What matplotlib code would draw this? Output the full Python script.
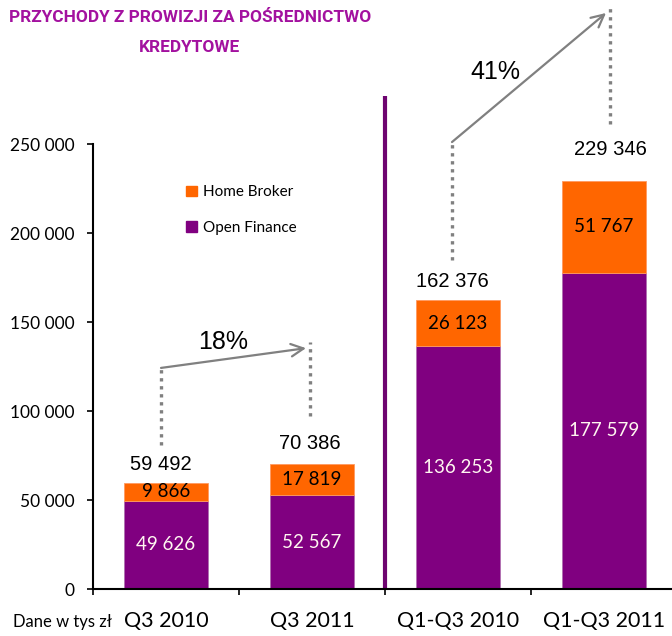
import matplotlib
matplotlib.use("Agg")
import matplotlib.pyplot as plt
from matplotlib.patches import Patch
from matplotlib.ticker import FuncFormatter
import numpy as np

# ---- data ----
categories = ["Q3 2010", "Q3 2011", "Q1-Q3 2010", "Q1-Q3 2011"]
open_finance = [49626, 52567, 136253, 177579]
home_broker = [9866, 17819, 26123, 51767]
totals = [59492, 70386, 162376, 229346]
series_names = ["Home Broker", "Open Finance"]
y_ticks = [0, 50000, 100000, 150000, 200000, 250000]
title_lines = ["PRZYCHODY Z PROWIZJI ZA POŚREDNICTWO", "KREDYTOWE"]
unit_note = "Dane w tys zł"
growth_pairs = [(0, 1), (2, 3)]

# ---- style ----
PURPLE = "#800080"
ORANGE = "#FF6600"
GRAY = "#808080"
TITLE_C = "#A3119F"
CAL = ["Lato", "DejaVu Sans"]
ARIAL = ["Liberation Sans", "DejaVu Sans"]
TITLE_F = ["Roboto", "DejaVu Sans"]

def fmt(v):
    return f"{int(v):,}".replace(",", " ")

fig = plt.figure(figsize=(6.72, 6.36), dpi=100)
W, H = 672, 636
ax = fig.add_axes([93 / W, 47 / H, 584 / W, 589 / H])
ax.set_xlim(-0.5, 3.5)
ax.set_ylim(0, 330900)

x = np.arange(len(categories))
bw = 0.58
ax.bar(x, open_finance, bw, color=PURPLE, edgecolor="#b070b0", linewidth=0.6, zorder=2)
ax.bar(x, home_broker, bw, bottom=open_finance, color=ORANGE, edgecolor="#ff9a60",
       linewidth=0.6, zorder=2)

# segment labels
for i in range(len(x)):
    ax.text(x[i], open_finance[i] / 2, fmt(open_finance[i]), ha="center", va="center",
            color="#FFF6F0", fontsize=13.5, family=CAL, zorder=3)
    ax.text(x[i], open_finance[i] + home_broker[i] / 2, fmt(home_broker[i]), ha="center",
            va="center", color="black", fontsize=13.5, family=CAL, zorder=3)

# total labels (pixel offsets)
label_dx = [-5, -2, -6, 6]
label_dy = [19, 20, 18, 31]
for i in range(len(x)):
    ax.annotate(fmt(totals[i]), (x[i], totals[i]), xytext=(label_dx[i] * 0.72, label_dy[i] * 0.72),
                textcoords="offset points", ha="center", va="center", fontsize=14.5,
                family=ARIAL, color="black")

# growth annotations (data units for annotation layout)
dot_ranges = [(80900, 124200), (97200, 138800), (184800, 251100), (261200, 327500)]
arrow_end_drop = [3500, 3900]
pct_pos = [(0.39, 138760), (2.253, 290450)]
px_unit = 1 / 146.0
for k, (a, b) in enumerate(growth_pairs):
    xa = x[a] + label_dx[a] * px_unit
    xb = x[b] + label_dx[b] * px_unit
    for idx, xx in ((a, xa), (b, xb)):
        y0, y1 = dot_ranges[idx]
        ax.plot([xx, xx], [y0, y1], color=GRAY, lw=2.4, dashes=(1.0, 1.4),
                solid_capstyle="butt", dash_capstyle="butt", zorder=1)
    ax.annotate("", xy=(xb - 4 * px_unit, dot_ranges[b][1] - arrow_end_drop[k]),
                xytext=(xa, dot_ranges[a][1]),
                arrowprops=dict(arrowstyle="->,head_length=0.9,head_width=0.45",
                                color=GRAY, lw=1.6, shrinkA=0, shrinkB=0))
    pct = round((totals[b] / totals[a] - 1) * 100)
    ax.text(pct_pos[k][0], pct_pos[k][1], f"{pct}%", ha="center", va="center",
            fontsize=18, family=ARIAL, color="black")

# divider
ax.plot([1.5, 1.5], [0, 277000], color="#6E0470", lw=3, solid_capstyle="butt", zorder=2)

# axes styling
for s in ["top", "right"]:
    ax.spines[s].set_visible(False)
ax.spines["left"].set_bounds(0, 250000)
ax.spines["left"].set_linewidth(1.5)
ax.spines["bottom"].set_linewidth(1.5)
ax.set_yticks(y_ticks)
ax.yaxis.set_major_formatter(FuncFormatter(lambda v, p: fmt(v)))
ax.tick_params(axis="y", direction="out", length=4.3, width=1.2, pad=9, labelsize=12.5)
for lab in ax.get_yticklabels():
    lab.set_family(CAL)
ax.set_xticks(x)
ax.set_xticklabels(categories, fontsize=15.5, family=CAL)
ax.set_xticks(np.arange(-0.5, 3.0, 1.0), minor=True)
ax.tick_params(axis="x", which="major", length=0, pad=16)
ax.tick_params(axis="x", which="minor", direction="out", length=4, width=1.2)

# legend
handles = [Patch(color=ORANGE), Patch(color=PURPLE)]
fig.legend(handles, series_names, loc="center left", bbox_to_anchor=(186 / W, 1 - 210 / H),
           frameon=False, prop={"family": CAL, "size": 11}, handlelength=0.7,
           handleheight=0.7, handletextpad=0.4, labelspacing=1.4, borderpad=0, borderaxespad=0)

fig.text(13 / W, 1 - 622 / H, unit_note, ha="left", va="center", fontsize=12, family=CAL)

# title: fit first line to about the reference width
t1 = fig.text(190 / W, 1 - 18 / H, title_lines[0], ha="center", va="center", fontsize=14,
              fontweight="bold", color=TITLE_C, family=TITLE_F)
renderer = fig.canvas.get_renderer()
w = t1.get_window_extent(renderer).width
fs = min(16.0, 14 * 362 / w)
t1.set_fontsize(fs)
fig.text(190 / W, 1 - 47 / H, title_lines[1], ha="center", va="center", fontsize=fs,
         fontweight="bold", color=TITLE_C, family=TITLE_F)

fig.savefig("out.png", dpi=100)
